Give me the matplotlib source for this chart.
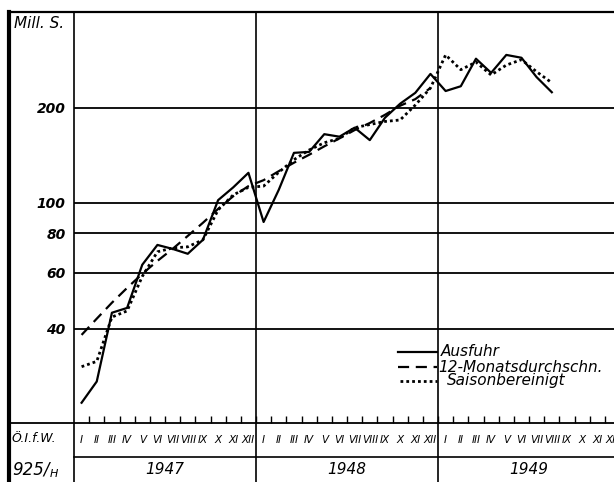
import numpy as np
import matplotlib.pyplot as plt
from matplotlib.ticker import NullLocator

# Ausfuhr Österreichs, Mill. S., Jan 1947 - Aug 1949 (log scale)
months = ['I', 'II', 'III', 'IV', 'V', 'VI', 'VII', 'VIII', 'IX', 'X', 'XI', 'XII']
years = ['1947', '1948', '1949']
ausfuhr = [23.3, 27.2, 44.9, 46.5, 63.7, 73.6, 71.5, 69.0, 76.4, 102, 112, 124.5,
           87, 110, 144, 145, 165, 162, 173, 158, 186, 206, 223, 256,
           226, 234, 286, 258, 294, 288, 250, 224]
durchschnitt = [38.2, 43.0, 48.3, 53.8, 59.6, 65.5, 71.5, 78.6, 86.5, 95.7, 105, 113,
                118, 126, 134, 142, 151, 160, 170, 179, 190, 203, 213, 231]
saison = [30.3, 31.5, 43.5, 45.5, 58.5, 70, 72, 72.6, 76.4, 95, 106, 112,
          113, 125, 137, 147, 155, 160, 173, 177, 181, 183, 204, 231,
          294, 264, 279, 254, 273, 284, 260, 240]
y_ticks = [40, 60, 80, 100, 200]

W, H = 614, 482
fig = plt.figure(figsize=(W / 100, H / 100), dpi=100)


def box(l, t, r, b):
    return [l / W, 1 - b / H, (r - l) / W, (b - t) / H]


# frame / table lines in pixel coords
frame = fig.add_axes([0, 0, 1, 1])
frame.set_xlim(0, W)
frame.set_ylim(H, 0)
frame.axis('off')
frame.plot([9, W], [12, 12], color='k', lw=1.6)
frame.plot([9, 9], [12, H], color='k', lw=3)
frame.plot([9, W], [423, 423], color='k', lw=1.3)
frame.plot([74, W], [457, 457], color='k', lw=1.2)
frame.plot([74, 74], [12, H], color='k', lw=1.2)

frame.text(14, 24, 'Mill. S.', fontsize=11, fontstyle='italic', va='center')
frame.text(12, 438, 'Ö.I.f.W.', fontsize=9, fontstyle='italic', va='center')
frame.text(12, 469, '925/', fontsize=12, fontstyle='italic', va='center')
frame.text(50, 474, 'H', fontsize=8, fontstyle='italic', va='center')

# data axes
ax = fig.add_axes(box(74, 12, W, 423))
ax.patch.set_alpha(0)
for s in ax.spines.values():
    s.set_visible(False)
ax.set_yscale('log')
ax.set_ylim(20.1, 402)
ax.set_xlim(0, 35.6)

for v in y_ticks:
    ax.axhline(v, color='k', lw=1.3, zorder=1)
ax.set_yticks(y_ticks, [str(v) for v in y_ticks])
ax.yaxis.set_minor_locator(NullLocator())
ax.tick_params(axis='y', length=0, pad=6, labelsize=10)
for lbl in ax.get_yticklabels():
    lbl.set_fontstyle('italic')
    lbl.set_fontweight('bold')

ax.set_xticks(np.arange(1, 36))
ax.tick_params(axis='x', direction='in', length=5, width=1, labelbottom=False)

for b in [12, 24]:
    ax.axvline(b, ymin=-59 / 411, ymax=1, color='k', lw=1.2, clip_on=False)

x_a = np.arange(len(ausfuhr)) + 0.5
x_d = np.arange(len(durchschnitt)) + 0.5
x_s = np.arange(len(saison)) + 0.5
ax.plot(x_a, ausfuhr, color='k', lw=1.6, zorder=3)
ax.plot(x_d, durchschnitt, color='k', lw=1.6, ls=(0, (5, 3)), zorder=3)
ax.plot(x_s, saison, color='k', lw=2, ls=(0, (1, 1.1)), zorder=3)

# month and year labels below
trans = ax.get_xaxis_transform()
for y in range(3):
    for i, m in enumerate(months):
        ax.text(y * 12 + i + 0.5, -17 / 411, m, transform=trans, ha='center', va='center',
                fontsize=7.5, fontstyle='italic', clip_on=False)
    ax.text(y * 12 + 6, -47 / 411, years[y], transform=trans, ha='center', va='center',
            fontsize=11, fontstyle='italic', clip_on=False)

# legend drawn by hand
frame.plot([398, 437], [352, 352], color='k', lw=1.6)
frame.plot([398, 437], [367, 367], color='k', lw=1.6, ls=(0, (5, 3)))
frame.plot([400, 437], [381, 381], color='k', lw=2, ls=(0, (1, 1.1)))
frame.text(441, 352, 'Ausfuhr', fontsize=11, fontstyle='italic', va='center')
frame.text(438, 367, '12-Monatsdurchschn.', fontsize=11, fontstyle='italic', va='center')
frame.text(447, 381, 'Saisonbereinigt', fontsize=11, fontstyle='italic', va='center')

fig.savefig('out.png', dpi=100)
